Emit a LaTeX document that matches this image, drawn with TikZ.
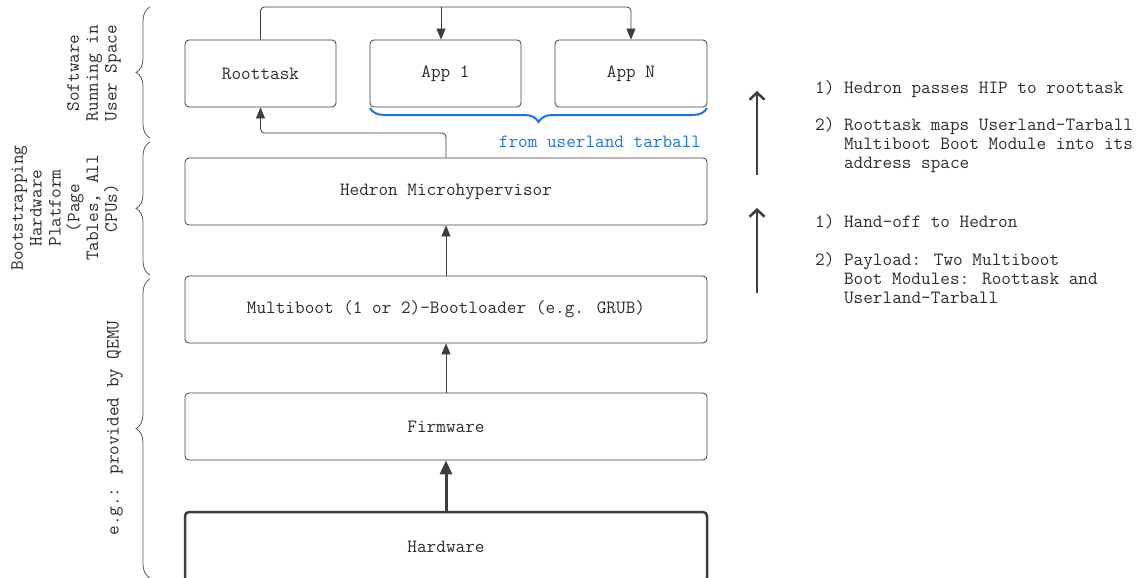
\documentclass[tikz,border=0pt]{standalone}
\usepackage{fontspec}
\usetikzlibrary{arrows.meta,decorations.pathreplacing}
\definecolor{dark}{RGB}{58,62,69}
\definecolor{txt}{RGB}{45,45,45}
\definecolor{bl}{RGB}{26,115,232}
\definecolor{brc}{RGB}{90,90,90}
\begin{document}
\begin{tikzpicture}[x=1pt,y=-1pt,
  every node/.style={font=\ttfamily\fontsize{18.7}{18.8}\selectfont, text=txt},
  box/.style={draw=dark, rounded corners=4pt, line width=0.8pt, inner sep=0pt},
  smallbox/.style={box, minimum width=151pt, minimum height=67pt},
  widebox/.style={box, minimum width=522pt, minimum height=67pt},
  conn/.style={draw=dark, line width=0.8pt, -{Triangle[length=11pt,width=9pt]}},
  thickconn/.style={draw=dark, line width=3pt, -{Triangle[length=14pt,width=12pt]}},
  sidearrow/.style={draw=dark, line width=2.5pt, -{Straight Barb[length=7pt,width=15pt]}},
  lbrace/.style={draw=brc, line width=0.8pt, decorate, decoration={brace, amplitude=14pt}},
  sidetext/.style={anchor=base west, inner sep=0pt},
  vlabel/.style={rotate=90, align=center, inner sep=0pt}
]
\useasboundingbox (0,0) rectangle (1143,578);
% boxes
\node[smallbox] (root) at (260.5,73.5) {Roottask};
\node[smallbox] (app1) at (445.5,73.5) {App 1};
\node[smallbox, minimum width=152pt] (appN) at (631,73.5) {App N};
\node[widebox] (hedron) at (446,191.5) {Hedron Microhypervisor};
\node[widebox] (multi) at (446,309.5) {Multiboot (1 or 2)-Bootloader (e.g. GRUB)};
\node[widebox] (fw) at (446,426.5) {Firmware};
\node[widebox, line width=2.5pt, minimum height=70pt] (hw) at (446,547) {Hardware};
% connectors
\coordinate (k) at (260.5,7);
\coordinate (j1) at (441,7);
\coordinate (j2) at (631,7);
\coordinate (h1) at (446,133);
\draw[conn, rounded corners=4pt] (root.north) -- (k) -- (j2) -- (appN.north);
\draw[conn] (j1) -- (app1.north -| j1);
\draw[conn, rounded corners=4pt] (hedron.north -| h1) -- (h1) -| (root.south);
\draw[conn] (multi.north) -- (hedron.south);
\draw[conn] (fw.north) -- (multi.south);
\draw[thickconn] (hw.north) -- (fw.south);
% blue brace
\coordinate (ba) at (707,108);
\coordinate (bb) at (370,108);
\draw[draw=bl, line width=2pt, decorate, decoration={brace, amplitude=14pt}] (ba) -- (bb);
\node[text=bl] (tarball) at (600,142) {from userland tarball};
% left braces
\coordinate (b1t) at (150,7);
\coordinate (b1b) at (150,138);
\coordinate (b2t) at (150,142);
\coordinate (b2b) at (150,275);
\coordinate (b3t) at (150,279);
\coordinate (b3b) at (150,578);
\draw[lbrace] (b1b) -- (b1t);
\draw[lbrace] (b2b) -- (b2t);
\draw[lbrace] (b3b) -- (b3t);
\node[vlabel] (lab1) at (94,73) {Software\\Running in\\User Space};
\node[vlabel] (lab2) at (65,208) {Bootstrapping\\Hardware\\Platform\\(Page\\Tables, All\\CPUs)};
\node[vlabel] (lab3) at (115,428) {e.g.: provided by QEMU};
% right arrows
\coordinate (ra1) at (757,175);
\coordinate (ra2) at (757,91);
\coordinate (rb1) at (757,293);
\coordinate (rb2) at (757,208);
\draw[sidearrow] (ra1) -- (ra2);
\draw[sidearrow] (rb1) -- (rb2);
% right texts
\node[sidetext] (t1) at (815,93.5) {1) Hedron passes HIP to roottask};
\node[sidetext] (t2) at (815,130.5) {2) Roottask maps Userland-Tarball};
\node[sidetext] (t3) at (815,149.3) {\phantom{2) }Multiboot Boot Module into its};
\node[sidetext] (t4) at (815,168) {\phantom{2) }address space};
\node[sidetext] (t5) at (815,227.5) {1) Hand-off to Hedron};
\node[sidetext] (t6) at (815,265.5) {2) Payload: Two Multiboot};
\node[sidetext] (t7) at (815,284.2) {\phantom{2) }Boot Modules: Roottask and};
\node[sidetext] (t8) at (815,303) {\phantom{2) }Userland-Tarball};
\end{tikzpicture}
\end{document}
